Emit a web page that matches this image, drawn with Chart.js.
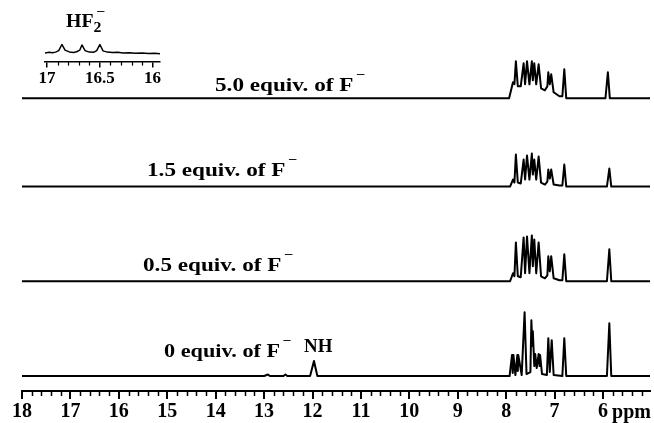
<!DOCTYPE html>
<html>
<head>
<meta charset="utf-8">
<script src="https://cdn.jsdelivr.net/npm/chart.js@4.4.0/dist/chart.umd.min.js"></script>
<style>
  html, body { margin: 0; padding: 0; background: #fff; }
  #wrap { position: relative; width: 654px; height: 423px; overflow: hidden; }
  canvas { position: absolute; }
  .lbl {
    position: absolute;
    font-family: 'Liberation Serif', 'Times New Roman', serif;
    font-weight: bold;
    font-size: 19px;
    line-height: 1;
    white-space: nowrap;
    color: #000;
    transform-origin: left center;
    transform: scaleX(1.22);
  }
  .sup { position: relative; top: -0.9em; font-size: 0.7em; margin-left: 2px; }
  .sub { position: relative; top: 0.35em; font-size: 0.8em; }
</style>
</head>
<body>
<div id="wrap">
  <canvas id="mainChart" width="654" height="425" style="left:0;top:0"></canvas>
  <canvas id="insetChart" width="200" height="60" style="left:0;top:30px"></canvas>

  <div class="lbl" style="left:66px;top:12px;font-size:18px;transform:scaleX(1.1)">HF<span class="sub">2</span></div>
  <div class="lbl" style="left:96px;top:5px;font-size:13px">−</div>

  <div class="lbl" style="left:215px;top:75px">5.0 equiv. of F<span class="sup">−</span></div>
  <div class="lbl" style="left:147px;top:160px">1.5 equiv. of F<span class="sup">−</span></div>
  <div class="lbl" style="left:143px;top:255px">0.5 equiv. of F<span class="sup">−</span></div>
  <div class="lbl" style="left:164px;top:341px;transform:scaleX(1.17)">0 equiv. of F<span class="sup">−</span></div>
  <div class="lbl" style="left:304px;top:337px;font-size:18px;transform:scaleX(1.05)">NH</div>
</div>

<script>
// ── Spectrum data (ppm, intensity) ───────────────────────────────
const T0_PPM = [18, 13.0, 12.92, 12.88, 12.6, 12.56, 12.52, 12.05, 11.97, 11.9, 7.93, 7.88, 7.865, 7.85, 7.81, 7.77, 7.76, 7.75, 7.68, 7.62,
                7.58, 7.50, 7.48, 7.46, 7.45, 7.42, 7.40, 7.37, 7.33, 7.31, 7.30, 7.26, 7.16, 7.13, 7.10,
                7.06, 7.02, 6.84, 6.80, 6.76, 5.92, 5.87, 5.83, 5.03];
const T0_INT = [0, 0, 1.5, 0, 0, 1.5, 0, 0, 15, 0, 0, 21, 3, 21, 1, 21, 5, 21, 1, 64,
                2, 4, 56, 30, 45, 10, 22, 8, 22, 10, 21, 2, 1, 38, 4,
                36, 1, 0, 38, 0, 0, 53, 0, 0];

const T1_PPM = [18, 7.92, 7.86, 7.83, 7.80, 7.76, 7.70, 7.64, 7.61, 7.57, 7.52, 7.47, 7.45, 7.42, 7.38,
                7.33, 7.28, 7.20, 7.15, 7.13, 7.10, 7.07, 7.02, 6.90, 6.84, 6.80, 6.76, 5.92, 5.87, 5.83, 5.03];
const T1_INT = [0, 0, 8, 5, 39, 5, 4, 44, 8, 45, 8, 46, 15, 42, 8,
                39, 5, 3, 6, 25, 10, 25, 3, 1, 1, 27, 0, 0, 32, 0, 0];

const T2_PPM = [18, 7.92, 7.86, 7.83, 7.80, 7.76, 7.70, 7.64, 7.61, 7.57, 7.52, 7.47, 7.45, 7.42, 7.38,
                7.33, 7.28, 7.20, 7.15, 7.13, 7.10, 7.07, 7.02, 6.90, 6.84, 6.80, 6.76, 5.92, 5.87, 5.83, 5.03];
const T2_INT = [0, 0, 7, 4, 32, 4, 3, 27, 7, 31, 7, 33, 12, 27, 7,
                30, 4, 2, 5, 17, 8, 17, 2, 1, 1, 22, 0, 0, 18, 0, 0];

const T3_PPM = [18, 7.94, 7.86, 7.83, 7.80, 7.76, 7.70, 7.64, 7.61, 7.57, 7.52, 7.47, 7.45, 7.42, 7.38,
                7.33, 7.28, 7.20, 7.15, 7.13, 7.10, 7.07, 7.02, 6.90, 6.84, 6.80, 6.76, 5.95, 5.90, 5.86, 5.03];
const T3_INT = [0, 0, 16, 14, 37, 12, 12, 35, 14, 37, 14, 37, 18, 35, 14,
                34, 10, 8, 12, 26, 14, 24, 6, 2, 2, 29, 0, 0, 26, 0, 0];

// HF2- inset
const INSET_PPM = [17.02, 16.98, 16.95, 16.92, 16.89, 16.86, 16.83, 16.79, 16.75, 16.72, 16.69, 16.67, 16.64, 16.60,
                   16.56, 16.53, 16.50, 16.47, 16.43, 16.38, 16.33, 16.28, 16.22, 16.16, 16.10, 16.04, 15.98, 15.93];
const INSET_INT = [0.2, 0.8, 0.3, 1.0, 2.5, 8.5, 3, 1.2, 0.6, 1.4, 3, 8, 2.5, 1,
                   0.8, 2.5, 8.5, 2.2, 1, 0.6, 0.8, 0.2, 0.5, -0.1, 0.2, -0.4, -0.1, -0.5];

const MAJOR_TICKS = [18, 17, 16, 15, 14, 13, 12, 11, 10, 9, 8, 7, 6];
const INSET_TICKS = [17, 16.5, 16];

// stacking offsets (layout, not data)
const OFFSETS = [15, 110, 205, 293.5];
const INSET_BASE = 8.3;

const FONT = 'Liberation Serif';

function toPoints(ppm, ints, base) {
  return ppm.map((p, i) => ({ x: p, y: ints[i] + base }));
}

function minorValues(from, to, step) {
  const out = [];
  const n = Math.round((to - from) / step);
  for (let i = 0; i <= n; i++) out.push(+(from + i * step).toFixed(2));
  return out;
}

// draws the small ticks between the labelled ones
const minorTicks = {
  id: 'minorTicks',
  afterDraw(chart, args, opts) {
    const sx = chart.scales.x;
    const ctx = chart.ctx;
    const y0 = chart.chartArea.bottom;
    ctx.save();
    ctx.strokeStyle = '#000';
    ctx.lineWidth = opts.width;
    opts.values.forEach(v => {
      if (v < sx.min || v > sx.max) return;
      const px = Math.round(sx.getPixelForValue(v)) + 0.5;
      ctx.beginPath();
      ctx.moveTo(px, y0);
      ctx.lineTo(px, y0 + opts.len);
      ctx.stroke();
    });
    if (opts.unit) {
      ctx.fillStyle = '#000';
      ctx.font = 'bold 20px ' + FONT;
      ctx.textBaseline = 'alphabetic';
      ctx.fillText(opts.unit, sx.getPixelForValue(6) + 9, y0 + 27);
    }
    ctx.restore();
  }
};

function axisOpts(min, max, ticks, tickLen, fontSize, lineW) {
  return {
    type: 'linear',
    reverse: true,
    min: min,
    max: max,
    afterBuildTicks: s => { s.ticks = ticks.map(v => ({ value: v })); },
    grid: { drawOnChartArea: false, tickLength: tickLen, color: '#000', lineWidth: lineW },
    border: { color: '#000', width: lineW },
    ticks: {
      color: '#000',
      font: { family: FONT, weight: 'bold', size: fontSize },
      padding: 1,
      maxRotation: 0,
      autoSkip: false,
      callback: v => String(v)
    }
  };
}

const traces = [
  [T0_PPM, T0_INT],
  [T1_PPM, T1_INT],
  [T2_PPM, T2_INT],
  [T3_PPM, T3_INT]
];

new Chart(document.getElementById('mainChart'), {
  type: 'line',
  data: {
    datasets: traces.map((t, i) => ({
      data: toPoints(t[0], t[1], OFFSETS[i]),
      borderColor: '#000',
      borderWidth: 2,
      borderJoinStyle: 'round',
      pointRadius: 0,
      tension: 0
    }))
  },
  options: {
    responsive: false,
    animation: false,
    devicePixelRatio: 1,
    layout: { padding: { left: 22, right: 4, top: 0, bottom: 0 } },
    plugins: {
      legend: { display: false },
      tooltip: { enabled: false },
      minorTicks: {
        values: minorValues(5.2, 18, 0.2).filter(v => Math.abs(v - Math.round(v)) > 0.01),
        len: 5, width: 1.5, unit: 'ppm'
      }
    },
    scales: {
      x: axisOpts(5.03, 18, MAJOR_TICKS, 8, 20, 2),
      y: { display: false, min: 0, max: 392 }
    }
  },
  plugins: [minorTicks]
});

new Chart(document.getElementById('insetChart'), {
  type: 'line',
  data: {
    datasets: [{
      data: toPoints(INSET_PPM, INSET_INT, INSET_BASE),
      borderColor: '#000',
      borderWidth: 1.5,
      borderJoinStyle: 'round',
      pointRadius: 0,
      tension: 0
    }]
  },
  options: {
    responsive: false,
    animation: false,
    devicePixelRatio: 1,
    layout: { padding: { left: 45, right: 40, top: 0, bottom: 0 } },
    plugins: {
      legend: { display: false },
      tooltip: { enabled: false },
      minorTicks: {
        values: minorValues(15.9, 17.1, 0.1).filter(v => !INSET_TICKS.includes(v)),
        len: 4, width: 1.2
      }
    },
    scales: {
      x: axisOpts(15.93, 17.02, INSET_TICKS, 6, 17, 1.5),
      y: { display: false, min: 0, max: 31 }
    }
  },
  plugins: [minorTicks]
});
</script>
</body>
</html>
